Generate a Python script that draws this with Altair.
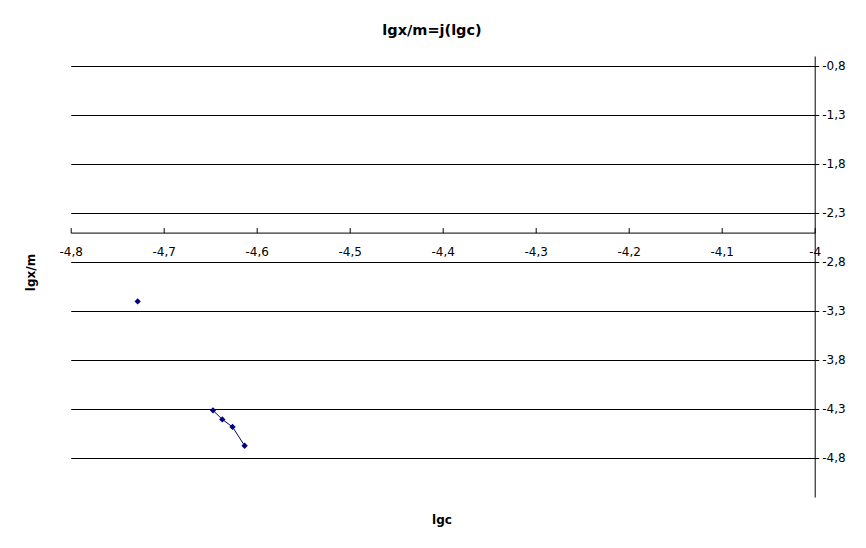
import altair as alt
import pandas as pd

# data
lgc = [-4.728, -4.647, -4.637, -4.626, -4.613]
lgxm = [-3.204, -4.316, -4.408, -4.485, -4.677]
segment = [1, 2, 2, 2, 2]

x_ticks = [-4.8, -4.7, -4.6, -4.5, -4.4, -4.3, -4.2, -4.1, -4.0]
y_ticks = [-0.8, -1.3, -1.8, -2.3, -2.8, -3.3, -3.8, -4.3, -4.8]

df = pd.DataFrame({"lgc": lgc, "lgxm": lgxm, "segment": segment})

W, H = 744, 441
FONT = "DejaVu Sans"
LBL = "replace(toString(datum.value), '.', ',')"

xscale = alt.Scale(domain=[-4.8, -4.0], nice=False, zero=False)
yscale = alt.Scale(domain=[-5.2, -0.7], nice=False, zero=False)

xaxis = alt.Axis(
    orient="top", offset=-176.6, values=x_ticks, labelExpr=LBL,
    tickSize=5, tickColor="black", domainColor="black", grid=False,
    labelPadding=-27.5, labelBaseline="alphabetic", labelFlush=False,
    labelOverlap=False, labelFont=FONT, labelFontSize=12, labelColor="black",
    title="lgc", titleFont=FONT, titleFontSize=12, titleFontWeight="bold",
    titleColor="black", titleX=370.8, titleY=286.4, titleBaseline="middle",
    titleAlign="center",
)
yaxis = alt.Axis(
    orient="right", values=y_ticks, labelExpr=LBL, tickSize=4,
    tickColor="black", domainColor="black", grid=True, gridColor="black",
    gridOpacity=1, gridWidth=1, labelPadding=3, labelFont=FONT,
    labelFontSize=12, labelColor="black", labelOverlap=False,
    title="lgx/m", titleFont=FONT, titleFontSize=12, titleFontWeight="bold",
    titleColor="black", titleAngle=270, titleX=-784.7, titleY=216,
    titleBaseline="middle", titleAlign="center",
)

base = alt.Chart(df)
line = base.transform_filter("datum.segment == 2").mark_line(
    color="#000080", strokeWidth=1
).encode(
    x=alt.X("lgc:Q", scale=xscale, axis=xaxis),
    y=alt.Y("lgxm:Q", scale=yscale, axis=yaxis),
    detail="segment:N",
)
pts = base.mark_point(shape="diamond", filled=True, color="#000080", size=40, opacity=1).encode(
    x=alt.X("lgc:Q", scale=xscale),
    y=alt.Y("lgxm:Q", scale=yscale),
)

chart = alt.layer(line, pts).properties(
    width=W, height=H, background="white",
    title=alt.Title("lgx/m=j(lgc)", font=FONT, fontSize=14.5, fontWeight="bold",
                    color="black", anchor="middle", frame="group", dx=-10.7, offset=18),
    autosize=alt.AutoSizeParams(type="none"),
    padding={"left": 62.7, "top": 48, "right": 43.3, "bottom": 43},
).configure_view(strokeWidth=0, stroke="transparent")

chart.save("out.html", embed_options={"renderer": "svg", "actions": False})
